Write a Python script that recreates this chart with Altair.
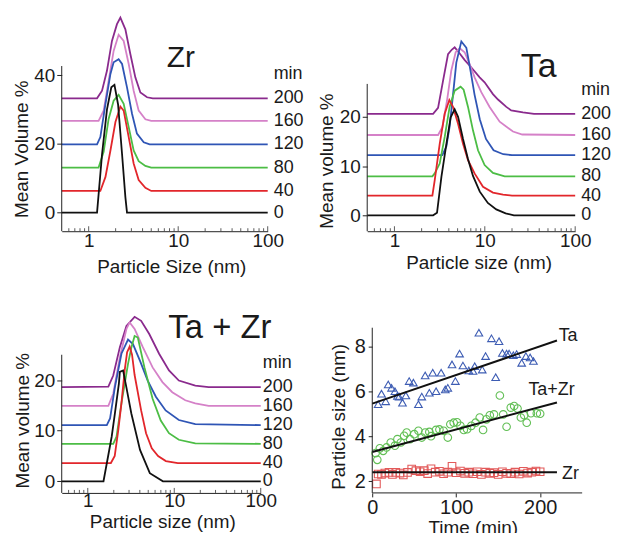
import altair as alt
import pandas as pd

FONT = "Liberation Sans"
TXT = "#1a1a1a"

TIMES = ["0", "40", "80", "120", "160", "200"]
LINE_COLORS = ["#111111", "#e2262b", "#4cbd45", "#2f55b5", "#d581c8", "#8a2a8d"]

# log-axis tick positions (nm)
MAJOR_TICKS = [1, 10, 100]
MINOR_TICKS = [0.6, 0.7, 0.8, 0.9, 2, 3, 4, 5, 6, 7, 8, 9, 20, 30, 40, 50, 60, 70, 80, 90]

# ---------------- Zr panel (size nm, mean volume %) ----------------
zr_x_0 = [0.5, 1.24, 1.41, 1.6, 1.79, 1.94, 2.13, 2.36, 2.57, 2.68, 100]
zr_y_0 = [0, 0, 17, 30, 36.5, 37.2, 31.5, 17, 4.5, 0, 0]
zr_x_40 = [0.5, 1.35, 1.54, 1.75, 1.99, 2.26, 2.46, 2.8, 3.18, 3.62, 4.3, 5.0, 100]
zr_y_40 = [6.3, 6.3, 10.4, 18.1, 26.4, 30.9, 29.7, 22.0, 14.3, 9.5, 7.2, 6.3, 6.3]
zr_x_80 = [0.5, 1.29, 1.47, 1.67, 1.9, 2.16, 2.46, 2.8, 3.18, 3.62, 4.3, 5.0, 100]
zr_y_80 = [13.1, 13.1, 17.7, 27.3, 32.6, 34.3, 31.7, 24.9, 18.1, 15.0, 13.6, 13.1, 13.1]
zr_x_120 = [0.5, 1.24, 1.35, 1.54, 1.75, 1.9, 2.16, 2.36, 2.68, 3.05, 3.46, 4.12, 4.8, 100]
zr_y_120 = [19.9, 19.9, 22.0, 31.7, 40.4, 43.8, 44.7, 43.3, 36.5, 28.8, 23.0, 20.5, 19.9, 19.9]
zr_x_160 = [0.5, 1.29, 1.47, 1.67, 1.9, 2.16, 2.46, 2.8, 3.18, 3.62, 4.3, 5.0, 100]
zr_y_160 = [26.7, 26.7, 29.7, 38.4, 47.1, 51.8, 50.0, 43.3, 35.5, 29.7, 27.2, 26.7, 26.7]
zr_x_200 = [0.5, 1.24, 1.41, 1.6, 1.82, 2.07, 2.26, 2.57, 2.92, 3.32, 3.78, 4.49, 5.2, 100]
zr_y_200 = [33.3, 33.3, 35.5, 41.3, 50.0, 54.9, 56.8, 53.4, 46.2, 39.4, 35.0, 33.6, 33.3, 33.3]
zr_base = [0, 6.3, 13.1, 19.9, 26.7, 33.3]

# ---------------- Ta panel ----------------
ta_x_0 = [0.5, 2.68, 2.96, 3.31, 3.76, 4.19, 4.64, 5.06, 5.74, 6.5, 7.4, 8.8, 10.8, 13.4, 17, 21, 100]
ta_y_0 = [0, 0, 0.5, 7.8, 14.5, 19.9, 21.5, 20, 15.5, 11.5, 8, 4.8, 2.5, 1.2, 0.4, 0, 0]
ta_x_40 = [0.5, 2.63, 2.79, 3.17, 3.6, 4.05, 4.45, 5.06, 5.74, 6.52, 7.71, 9.55, 12.3, 15.9, 20, 100]
ta_y_40 = [4.0, 4.0, 7.1, 14.5, 20.6, 23.4, 22.0, 18.6, 14.5, 11.2, 8.5, 5.8, 4.6, 4.2, 4.0, 4.0]
ta_x_80 = [0.5, 2.63, 2.79, 3.17, 3.6, 4.08, 4.64, 5.4, 5.83, 6.52, 7.41, 8.41, 9.95, 12.3, 16.6, 100]
ta_y_80 = [7.9, 7.9, 8.5, 10.5, 15.9, 22.0, 25.3, 26.1, 25.5, 22.0, 17.2, 13.2, 10.2, 8.6, 7.9, 7.9]
ta_x_120 = [0.5, 3.39, 3.76, 4.08, 4.45, 4.84, 5.5, 6.25, 7.0, 7.7, 8.8, 10.3, 12.5, 16, 20, 100]
ta_y_120 = [12.2, 12.2, 14, 18, 24.5, 31, 35.3, 34, 29, 24.5, 19.5, 15.5, 13.2, 12.4, 12.2, 12.2]
ta_x_160 = [0.5, 3.04, 3.39, 3.82, 4.26, 4.76, 5.27, 5.98, 6.8, 7.71, 9.14, 11.3, 14.6, 20.5, 26, 100]
ta_y_160 = [16.3, 16.3, 17.9, 23.3, 29.4, 33.1, 33.9, 33.1, 30.7, 28, 25, 22, 19, 17, 16.4, 16.3]
ta_x_200 = [0.5, 2.68, 3.04, 3.45, 3.92, 4.3, 4.64, 5.2, 6.0, 7.1, 8.77, 9.95, 12.3, 14, 17.3, 19.6, 26.4, 35, 100]
ta_y_200 = [20.6, 20.6, 21.8, 27.3, 32.7, 33.6, 34.1, 33.0, 31.5, 30.0, 28.0, 27.0, 24.6, 23.5, 22.0, 21.3, 20.9, 20.6, 20.6]
ta_base = [0, 4.0, 7.9, 12.2, 16.3, 20.6]

# ---------------- Ta + Zr panel ----------------
tz_x_0 = [0.5, 1.52, 1.89, 2.06, 2.29, 2.35, 2.56, 2.8, 3.19, 4.02, 5.22, 7.4, 100]
tz_y_0 = [0, 0, 8.8, 13.4, 19.3, 21.6, 21.9, 18.5, 13.4, 6.2, 1.6, 0, 0]
tz_x_40 = [0.5, 1.85, 2.05, 2.25, 2.45, 2.67, 2.85, 3.05, 3.25, 3.48, 4.14, 4.72, 5.5, 6.5, 8, 11, 100]
tz_y_40 = [3.6, 3.6, 5, 10, 15.4, 21.9, 25.5, 26.6, 25, 21, 14, 9.5, 6.5, 5, 4, 3.6, 3.6]
tz_x_80 = [0.5, 1.97, 2.15, 2.45, 2.92, 3.2, 3.48, 3.79, 4.52, 5.62, 6.98, 8.69, 11.3, 17.5, 100]
tz_y_80 = [7.4, 7.4, 8.8, 15.4, 23.2, 26.5, 28.7, 28.4, 22.5, 16.3, 12, 9.5, 8.2, 7.5, 7.4]
tz_x_120 = [0.5, 1.66, 1.81, 2.06, 2.45, 2.92, 3.33, 4.02, 4.93, 6.13, 7.95, 11.3, 17.5, 100]
tz_y_120 = [11.1, 11.1, 12.4, 18.6, 25.2, 28.0, 27.1, 23.8, 19.9, 16.7, 14.0, 12.1, 11.3, 11.1]
tz_x_160 = [0.5, 1.73, 1.97, 2.35, 2.8, 3.05, 3.48, 4.33, 5.62, 7.3, 9.48, 13.4, 17.5, 25, 100]
tz_y_160 = [14.9, 14.9, 17.3, 24.5, 30.1, 31.4, 30.1, 26.5, 22.5, 19.6, 17.6, 16.0, 15.4, 14.9, 14.9]
tz_x_200 = [0.5, 1.73, 1.97, 2.35, 2.8, 3.48, 4.14, 5.14, 6.68, 8.69, 11.3, 17.5, 25, 100]
tz_y_200 = [18.6, 18.7, 20.9, 26.5, 30.7, 32.5, 31.7, 29.1, 25.2, 21.9, 19.9, 18.9, 18.6, 18.6]
tz_base = [0, 3.6, 7.4, 11.1, 14.9, 18.6]

# ---------------- Particle size vs time ----------------
ta_t = [7, 11, 16, 19, 23, 27, 30, 32, 36, 40, 44, 49, 55, 59, 63, 68, 72, 76, 82, 87, 90, 95, 99, 104, 108,
        115, 120, 122, 127, 131, 135, 142, 147, 151, 155, 160, 163, 168, 172, 178, 183, 188, 192]
ta_s = [5.42, 5.89, 5.55, 6.3, 6.15, 6.0, 5.79, 5.76, 5.49, 5.81, 6.45, 6.38, 5.42, 5.76, 6.7, 5.93, 6.82, 6.0,
        6.82, 6.08, 6.15, 7.19, 6.45, 7.67, 7.14, 6.92, 6.9, 7.11, 8.6, 6.96, 7.56, 8.35, 6.62, 8.22, 7.7, 7.67,
        7.67, 7.6, 7.65, 7.26, 7.56, 7.5, 7.34]
tazr_t = [4, 6, 9, 13, 17, 22, 27, 30, 34, 38, 41, 45, 50, 55, 59, 63, 68, 70, 76, 80, 85, 90, 93, 97, 101,
          105, 109, 113, 118, 123, 128, 132, 136, 140, 145, 152, 156, 160, 165, 169, 173, 177, 181, 184, 189, 196, 200]
tazr_s = [3.25, 2.95, 3.46, 3.35, 3.5, 3.72, 3.58, 3.87, 3.72, 4.02, 4.16, 3.87, 4.09, 4.24, 3.94, 4.16, 4.19,
          4.0, 4.28, 4.3, 4.24, 3.94, 4.53, 4.6, 4.62, 4.46, 4.28, 4.31, 4.46, 4.6, 4.83, 4.28, 4.75, 4.93, 4.97,
          5.81, 4.97, 4.42, 5.27, 5.34, 5.23, 4.83, 4.93, 4.6, 5.02, 5.02, 5.0]
zr_t = [5, 7, 11, 15, 20, 24, 28, 33, 37, 42, 47, 52, 57, 62, 66, 70, 75, 80, 85, 90, 95, 100, 105, 110, 115,
        120, 125, 130, 135, 140, 145, 150, 155, 160, 165, 170, 175, 180, 185, 190, 195, 200]
zr_s = [1.88, 2.32, 2.30, 2.36, 2.39, 2.30, 2.39, 2.36, 2.28, 2.39, 2.54, 2.47, 2.42, 2.47, 2.34, 2.55, 2.40,
        2.44, 2.33, 2.40, 2.66, 2.38, 2.45, 2.35, 2.40, 2.33, 2.42, 2.30, 2.40, 2.35, 2.38, 2.30, 2.42, 2.35,
        2.33, 2.40, 2.32, 2.44, 2.36, 2.40, 2.45, 2.42]
fit_t = [0, 220]
fit_ta = [5.45, 8.25]
fit_tazr = [3.3, 5.5]
fit_zr = [2.4, 2.4]
fit_names = ["Ta", "Ta+Zr", "Zr"]
fit_label_t = [222, 186, 226]
fit_label_s = [8.43, 6.05, 2.3]


def axis_style(**kw):
    base = dict(grid=False, labelFont=FONT, titleFont=FONT, labelFontSize=19, titleFontSize=19,
                titleFontWeight="normal", labelColor=TXT, titleColor=TXT, tickColor="#222",
                domainColor="#222", labelFlush=False, labelOverlap=False, titleBaseline="middle")
    base.update(kw)
    return alt.Axis(**base)


def dist_panel(xs, ys, base, ydom, spine, yvals, W, H, title, ttl_x, ttl_y, ttl_size,
               ytitle, yt_x, yt_y, xtitle, xt_x, xt_y, lab_dx, x_pad=0):
    xscale = alt.Scale(type="log", domain=[0.5, 100], nice=False)
    yscale = alt.Scale(domain=ydom, nice=False, zero=False)
    xaxis = axis_style(values=MAJOR_TICKS, format="d", title=xtitle, titleX=xt_x, titleY=xt_y,
                       ticks=False, tickSize=0, labelPadding=x_pad)
    yaxis = axis_style(values=yvals, title=ytitle, titleX=yt_x, titleY=yt_y, tickSize=5,
                       labelPadding=2, domain=False)

    def X(f):
        return alt.X(f, type="quantitative", scale=xscale, axis=xaxis)

    def Y(f):
        return alt.Y(f, type="quantitative", scale=yscale, axis=yaxis)

    layers = []
    for i in reversed(range(len(TIMES))):
        df = pd.DataFrame({"size": xs[i], "value": ys[i]})
        layers.append(alt.Chart(df).mark_line(clip=False, strokeWidth=1.8, color=LINE_COLORS[i])
                      .encode(x=X("size"), y=Y("value")))
    spine_df = pd.DataFrame({"size": [0.5], "lo": [spine[0]], "hi": [spine[1]]})
    layers.append(alt.Chart(spine_df).mark_rule(color="#222", strokeWidth=1)
                  .encode(x=X("size"), y=Y("lo"), y2="hi:Q"))
    # inward ticks on the log axis
    for vals, ln in [(MAJOR_TICKS, 5), (MINOR_TICKS, 3)]:
        layers.append(alt.Chart(pd.DataFrame({"size": vals})).mark_rule(color="#333", strokeWidth=0.8)
                      .encode(x=X("size"), y=alt.value(H), y2=alt.value(H - ln)))
    lab_df = pd.DataFrame({"size": [100] * len(TIMES), "value": base, "label": TIMES})
    layers.append(alt.Chart(lab_df).mark_text(align="left", baseline="middle", dx=lab_dx, font=FONT,
                                              fontSize=18, color=TXT, clip=False)
                  .encode(x=X("size"), y=Y("value"), text="label:N"))
    min_df = pd.DataFrame({"size": [100], "value": [base[-1]], "label": ["min"]})
    layers.append(alt.Chart(min_df).mark_text(align="left", baseline="middle", dx=lab_dx, dy=-24,
                                              font=FONT, fontSize=18, color=TXT, clip=False)
                  .encode(x=X("size"), y=Y("value"), text="label:N"))
    t_df = pd.DataFrame({"size": [ttl_x], "value": [ttl_y], "label": [title]})
    layers.append(alt.Chart(t_df).mark_text(align="center", baseline="alphabetic", font=FONT,
                                            fontSize=ttl_size, color=TXT, clip=False)
                  .encode(x=X("size"), y=Y("value"), text="label:N"))
    return alt.layer(*layers).properties(width=W, height=H)


p1 = dist_panel([zr_x_0, zr_x_40, zr_x_80, zr_x_120, zr_x_160, zr_x_200],
                [zr_y_0, zr_y_40, zr_y_80, zr_y_120, zr_y_160, zr_y_200], zr_base,
                [-5.42, 42.7], [-5.42, 42.7], [0, 20, 40], 207, 166,
                "Zr", 10.7, 42.4, 30,
                "Mean Volume %", -40, 83, "Particle Size (nm)", 110, 35, 6)
p2 = dist_panel([ta_x_0, ta_x_40, ta_x_80, ta_x_120, ta_x_160, ta_x_200],
                [ta_y_0, ta_y_40, ta_y_80, ta_y_120, ta_y_160, ta_y_200], ta_base,
                [-3.23, 30.3], [-3.23, 26.67], [0, 10, 20], 209, 166,
                "Ta", 39.5, 28.0, 34,
                "Mean volume %", -41, 95, "Particle size (nm)", 112, 31, 6)
p3 = dist_panel([tz_x_0, tz_x_40, tz_x_80, tz_x_120, tz_x_160, tz_x_200],
                [tz_y_0, tz_y_40, tz_y_80, tz_y_120, tz_y_160, tz_y_200], tz_base,
                [-2.3, 30.34], [-2.3, 25.0], [0, 10, 20], 200, 166,
                "Ta + Zr", 33.7, 28.3, 33,
                "Mean volume %", -39, 93, "Particle size (nm)", 101, 29, 2, x_pad=-1)

# panel 4: x scale starts a little left of 0 so that the time axis sits where the reference has it
T_LO = -6
xs4 = alt.Scale(domain=[T_LO, 250], nice=False)
ys4 = alt.Scale(domain=[1.48, 8.82], nice=False, zero=False)
xa4 = axis_style(values=[0, 100, 200], title="Time (min)", titleX=106, titleY=35, tickSize=4, labelPadding=1,
                 labelFontSize=20, domain=False)
ya4 = axis_style(values=[2, 4, 6, 8], title="Particle size (nm)", titleX=-34, titleY=89, tickSize=4,
                 labelPadding=3, domain=False, labelFontSize=20, offset=-5)


def X4(f):
    return alt.X(f, type="quantitative", scale=xs4, axis=xa4)


def Y4(f):
    return alt.Y(f, type="quantitative", scale=ys4, axis=ya4)


pts = []
for t, s, shape, col in [(ta_t, ta_s, "triangle-up", "#3d5cb3"),
                         (tazr_t, tazr_s, "circle", "#62bf55"),
                         (zr_t, zr_s, "square", "#e25a5a")]:
    pts.append(alt.Chart(pd.DataFrame({"t": t, "s": s}))
               .mark_point(shape=shape, filled=False, size=58, strokeWidth=1.1, color=col, opacity=1)
               .encode(x=X4("t"), y=Y4("s")))
fits = []
for vals in [fit_ta, fit_tazr, fit_zr]:
    fits.append(alt.Chart(pd.DataFrame({"t": fit_t, "s": vals}))
                .mark_line(color="#111", strokeWidth=2, clip=False)
                .encode(x=X4("t"), y=Y4("s")))
spine4 = alt.Chart(pd.DataFrame({"t": [0], "lo": [1.48], "hi": [8.82]})).mark_rule(color="#222").encode(
    x=X4("t"), y=Y4("lo"), y2="hi:Q")
base4 = alt.Chart(pd.DataFrame({"t": [0], "t2": [250], "s": [1.48]})).mark_rule(color="#222").encode(
    x=X4("t"), x2="t2:Q", y=Y4("s"))
labs4 = alt.Chart(pd.DataFrame({"t": fit_label_t, "s": fit_label_s, "label": fit_names})).mark_text(
    align="left", baseline="middle", font=FONT, fontSize=18, color=TXT, clip=False).encode(
    x=X4("t"), y=Y4("s"), text="label:N")
p4 = alt.layer(*pts, *fits, spine4, base4, labs4).properties(width=216, height=166)

chart = alt.concat(p1, p2, p3, p4, columns=2, spacing={"row": 97, "column": 100}, bounds="flush").properties(
    padding={"left": 5, "top": 4, "right": 0, "bottom": 0}
).configure_view(stroke=None)

chart.save("out.html", embed_options={"renderer": "svg", "actions": False})
